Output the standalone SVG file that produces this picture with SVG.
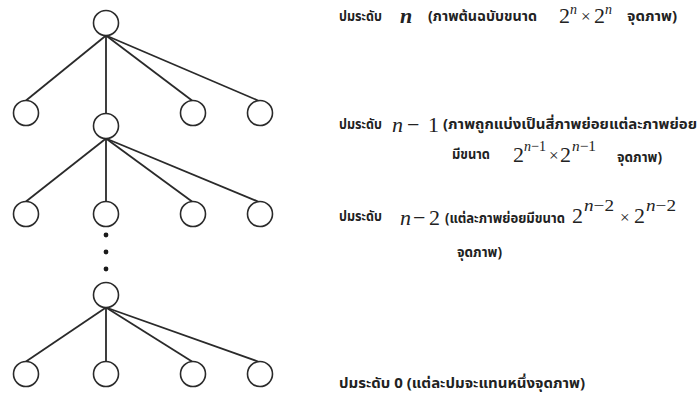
<svg xmlns="http://www.w3.org/2000/svg" width="699" height="395" viewBox="0 0 699 395">
<style>
.n{fill:#fff;stroke:#2a2a2a;stroke-width:1.6}
.e{stroke:#2a2a2a;stroke-width:1.8;fill:none}
.d{fill:#1a1a1a}
.th{font-family:"Noto Sans Thai","Noto Sans Thai UI","Noto Sans","DejaVu Sans",sans-serif;font-weight:bold;font-size:14px;fill:#222}
.m{font-family:"Liberation Serif","Times New Roman",serif;fill:#222}
.i{font-style:italic}
</style>
<rect width="699" height="395" fill="#fff"/>
<g id="connectors">
<line class="e" x1="106" y1="35.5" x2="26" y2="100.5"/>
<line class="e" x1="106" y1="35.5" x2="106" y2="113.5"/>
<line class="e" x1="106" y1="35.5" x2="192" y2="100.5"/>
<line class="e" x1="106" y1="35.5" x2="258" y2="100.5"/>
<line class="e" x1="106" y1="138.5" x2="26" y2="201.5"/>
<line class="e" x1="106" y1="138.5" x2="106" y2="201.5"/>
<line class="e" x1="106" y1="138.5" x2="192" y2="201.5"/>
<line class="e" x1="106" y1="138.5" x2="258" y2="201.5"/>
<line class="e" x1="106" y1="307.5" x2="26" y2="361.5"/>
<line class="e" x1="106" y1="307.5" x2="106" y2="361.5"/>
<line class="e" x1="106" y1="307.5" x2="192" y2="361.5"/>
<line class="e" x1="106" y1="307.5" x2="258" y2="361.5"/>
</g>
<g id="root"><circle class="n" cx="106" cy="23" r="12.5"/></g>
<g id="l1a"><circle class="n" cx="26" cy="113" r="12.5"/></g>
<g id="l1b"><circle class="n" cx="106" cy="126" r="12.5"/></g>
<g id="l1c"><circle class="n" cx="193" cy="113" r="12.5"/></g>
<g id="l1d"><circle class="n" cx="260" cy="113" r="12.5"/></g>
<g id="l2a"><circle class="n" cx="26" cy="214" r="12.5"/></g>
<g id="l2b"><circle class="n" cx="106" cy="214" r="12.5"/></g>
<g id="l2c"><circle class="n" cx="193" cy="214" r="12.5"/></g>
<g id="l2d"><circle class="n" cx="260" cy="214" r="12.5"/></g>
<g id="dots">
<circle class="d" cx="106" cy="235" r="2.4"/>
<circle class="d" cx="106" cy="252" r="2.4"/>
<circle class="d" cx="106" cy="269" r="2.4"/>
</g>
<g id="l3"><circle class="n" cx="106" cy="295" r="12.5"/></g>
<g id="l4a"><circle class="n" cx="26" cy="374" r="12.5"/></g>
<g id="l4b"><circle class="n" cx="106" cy="374" r="12.5"/></g>
<g id="l4c"><circle class="n" cx="193" cy="374" r="12.5"/></g>
<g id="l4d"><circle class="n" cx="260" cy="374" r="12.5"/></g>

<g id="label-n">
<text class="th" x="339" y="21" textLength="43" lengthAdjust="spacingAndGlyphs">ปมระดับ</text>
<text class="m i" x="400" y="23" font-size="22" font-weight="bold">n</text>
<text class="th" x="428" y="21" textLength="109" lengthAdjust="spacingAndGlyphs">(ภาพต้นฉบับขนาด</text>
<text class="m" x="559" y="23" font-size="22">2</text>
<text class="m i" x="570" y="14" font-size="14">n</text>
<text class="m" x="581" y="22" font-size="17">×</text>
<text class="m" x="594" y="23" font-size="22">2</text>
<text class="m i" x="605" y="14" font-size="14">n</text>
<text class="th" x="627" y="21" textLength="50" lengthAdjust="spacingAndGlyphs">จุดภาพ)</text>
</g>
<g id="label-n1">
<text class="th" x="339" y="129" textLength="43" lengthAdjust="spacingAndGlyphs">ปมระดับ</text>
<text class="m i" x="392" y="132" font-size="22">n</text>
<text class="m" x="407" y="132" font-size="22">−</text>
<text class="m" x="428" y="132" font-size="22">1</text>
<text class="th" x="443" y="129" textLength="254" lengthAdjust="spacingAndGlyphs">(ภาพถูกแบ่งเป็นสี่ภาพย่อยแต่ละภาพย่อย</text>
<text class="th" x="452" y="159" textLength="38" lengthAdjust="spacingAndGlyphs">มีขนาด</text>
<text class="m" x="513" y="162" font-size="22">2</text>
<text class="m" x="524" y="151" font-size="15" textLength="22" lengthAdjust="spacingAndGlyphs"><tspan class="i">n</tspan>−1</text>
<text class="m" x="549" y="161" font-size="17">×</text>
<text class="m" x="560" y="162" font-size="22">2</text>
<text class="m" x="572" y="151" font-size="15" textLength="24" lengthAdjust="spacingAndGlyphs"><tspan class="i">n</tspan>−1</text>
<text class="th" x="617" y="162" textLength="45" lengthAdjust="spacingAndGlyphs">จุดภาพ)</text>
</g>
<g id="label-n2">
<text class="th" x="339" y="221" textLength="43" lengthAdjust="spacingAndGlyphs">ปมระดับ</text>
<text class="m i" x="400" y="225" font-size="22">n</text>
<text class="m" x="413" y="225" font-size="22">−</text>
<text class="m" x="429" y="225" font-size="22">2</text>
<text class="th" x="445" y="223" textLength="120" lengthAdjust="spacingAndGlyphs">(แต่ละภาพย่อยมีขนาด</text>
<text class="m" x="572" y="223" font-size="22">2</text>
<text class="m" x="584" y="211" font-size="16" textLength="30" lengthAdjust="spacingAndGlyphs"><tspan class="i">n</tspan>−2</text>
<text class="m" x="620" y="223" font-size="17">×</text>
<text class="m" x="634" y="223" font-size="22">2</text>
<text class="m" x="646" y="211" font-size="16" textLength="30" lengthAdjust="spacingAndGlyphs"><tspan class="i">n</tspan>−2</text>
<text class="th" x="457" y="257" textLength="45" lengthAdjust="spacingAndGlyphs">จุดภาพ)</text>
</g>
<g id="label-0">
<text class="th" x="339" y="388" textLength="246" lengthAdjust="spacingAndGlyphs">ปมระดับ 0 (แต่ละปมจะแทนหนึ่งจุดภาพ)</text>
</g>
</svg>
